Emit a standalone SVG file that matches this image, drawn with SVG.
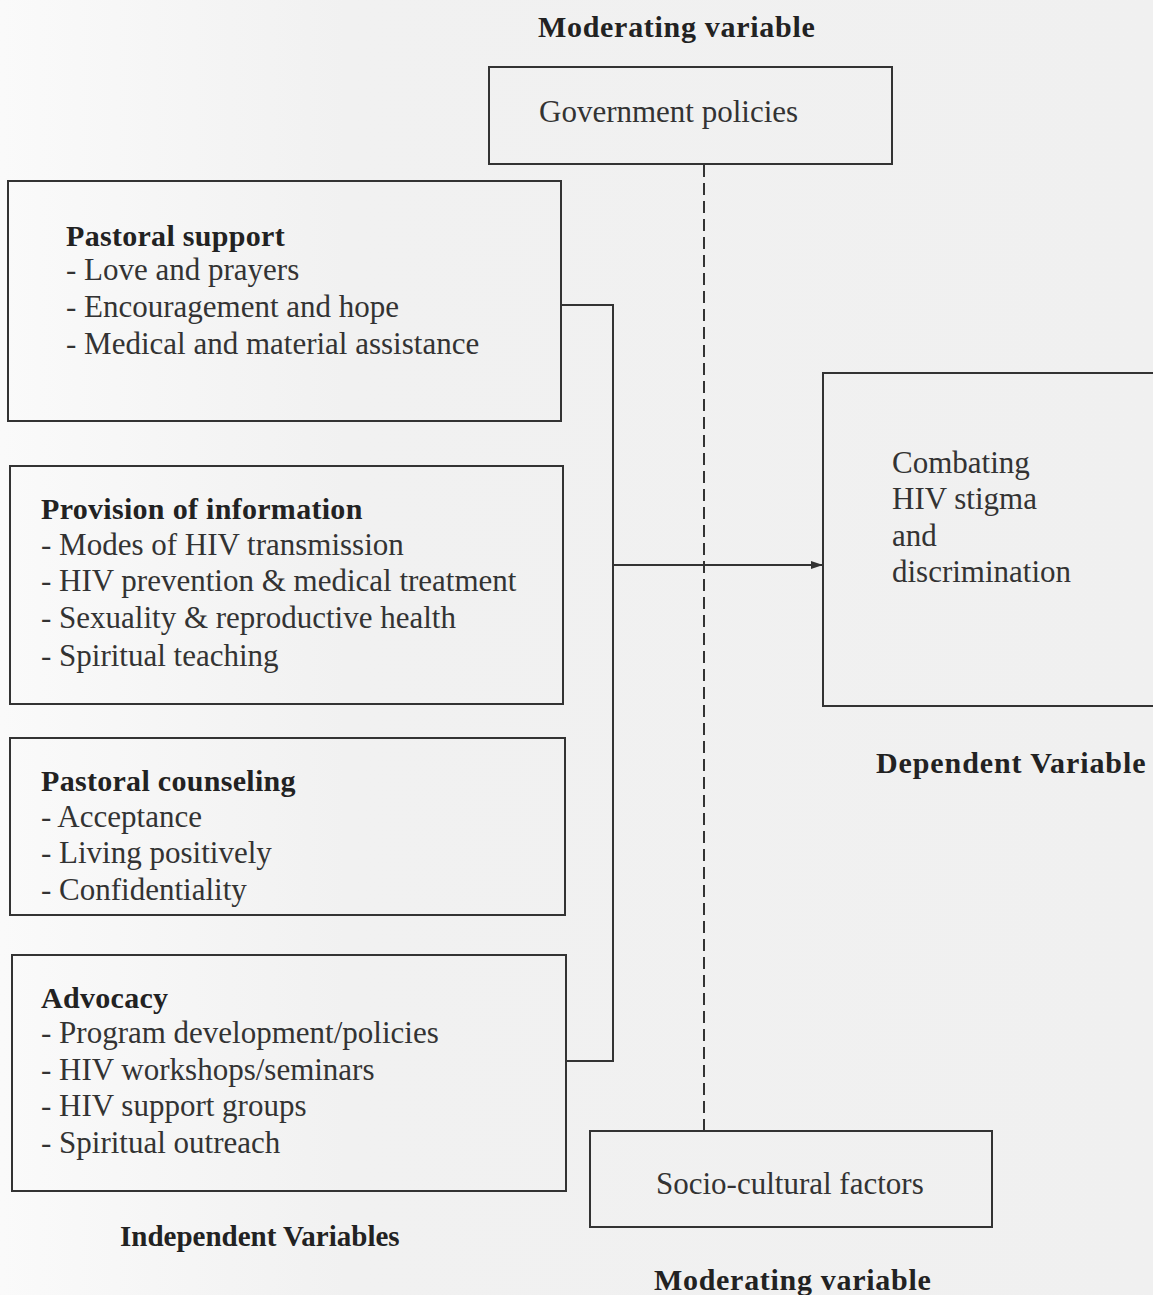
<svg xmlns="http://www.w3.org/2000/svg" width="1153" height="1295" viewBox="0 0 1153 1295">
<defs>
<linearGradient id="bg" x1="0" y1="0" x2="1" y2="0">
<stop offset="0" stop-color="#fafafa"/>
<stop offset="0.3" stop-color="#f1f1f1"/>
<stop offset="1" stop-color="#f0f0f0"/>
</linearGradient>
<marker id="arr" markerWidth="12" markerHeight="10" refX="11" refY="5" orient="auto" markerUnits="userSpaceOnUse">
<path d="M0,1 L12,5 L0,9 Z" fill="#333"/>
</marker>
<style>
.box{fill:none;stroke:#333;stroke-width:2}
.t{font-family:"Liberation Serif","Times New Roman",serif;font-size:31px;fill:#333}
.b{font-family:"Liberation Serif","Times New Roman",serif;font-size:30px;font-weight:bold;fill:#222;letter-spacing:0.3px}
.o{letter-spacing:0.7px}
.ln{fill:none;stroke:#333;stroke-width:2}
.dash{fill:none;stroke:#333;stroke-width:2;stroke-dasharray:12 6}
</style>
</defs>
<rect width="1153" height="1295" fill="url(#bg)"/>
<text class="b o" x="538" y="37">Moderating variable</text>
<text class="b o" x="876" y="773" style="letter-spacing:0.9px">Dependent Variable</text>
<text class="b" x="120" y="1246" style="font-size:29px;letter-spacing:0px">Independent Variables</text>
<text class="b o" x="654" y="1290">Moderating variable</text>

<g id="connectors">
<polyline class="ln" points="561,305 613,305 613,1061 566,1061"/>
<line class="ln" x1="613" y1="565" x2="822" y2="565" marker-end="url(#arr)"/>
<line class="dash" x1="704" y1="165" x2="704" y2="1131"/>
</g>

<g id="gov">
<rect class="box" x="489" y="67" width="403" height="97"/>
<text class="t" x="539" y="122">Government policies</text>
</g>
<g id="pastoral-support">
<rect class="box" x="8" y="181" width="553" height="240"/>
<text class="b" x="66" y="246">Pastoral support</text>
<text class="t" x="66" y="280">- Love and prayers</text>
<text class="t" x="66" y="317">- Encouragement and hope</text>
<text class="t" x="66" y="354">- Medical and material assistance</text>
</g>
<g id="provision">
<rect class="box" x="10" y="466" width="553" height="238"/>
<text class="b" x="41" y="519">Provision of information</text>
<text class="t" x="41" y="555">- Modes of HIV transmission</text>
<text class="t" x="41" y="591">- HIV prevention &amp; medical treatment</text>
<text class="t" x="41" y="628">- Sexuality &amp; reproductive health</text>
<text class="t" x="41" y="666">- Spiritual teaching</text>
</g>
<g id="counseling">
<rect class="box" x="10" y="738" width="555" height="177"/>
<text class="b" x="41" y="791">Pastoral counseling</text>
<text class="t" x="41" y="827">- Acceptance</text>
<text class="t" x="41" y="863">- Living positively</text>
<text class="t" x="41" y="900">- Confidentiality</text>
</g>
<g id="advocacy">
<rect class="box" x="12" y="955" width="554" height="236"/>
<text class="b" x="41" y="1008">Advocacy</text>
<text class="t" x="41" y="1043">- Program development/policies</text>
<text class="t" x="41" y="1080">- HIV workshops/seminars</text>
<text class="t" x="41" y="1116">- HIV support groups</text>
<text class="t" x="41" y="1153">- Spiritual outreach</text>
</g>
<g id="combating">
<rect class="box" x="823" y="373" width="340" height="333"/>
<text class="t" x="892" y="473">Combating</text>
<text class="t" x="892" y="509">HIV stigma</text>
<text class="t" x="892" y="546">and</text>
<text class="t" x="892" y="582">discrimination</text>
</g>
<g id="socio">
<rect class="box" x="590" y="1131" width="402" height="96"/>
<text class="t" x="656" y="1194">Socio-cultural factors</text>
</g>
</svg>
